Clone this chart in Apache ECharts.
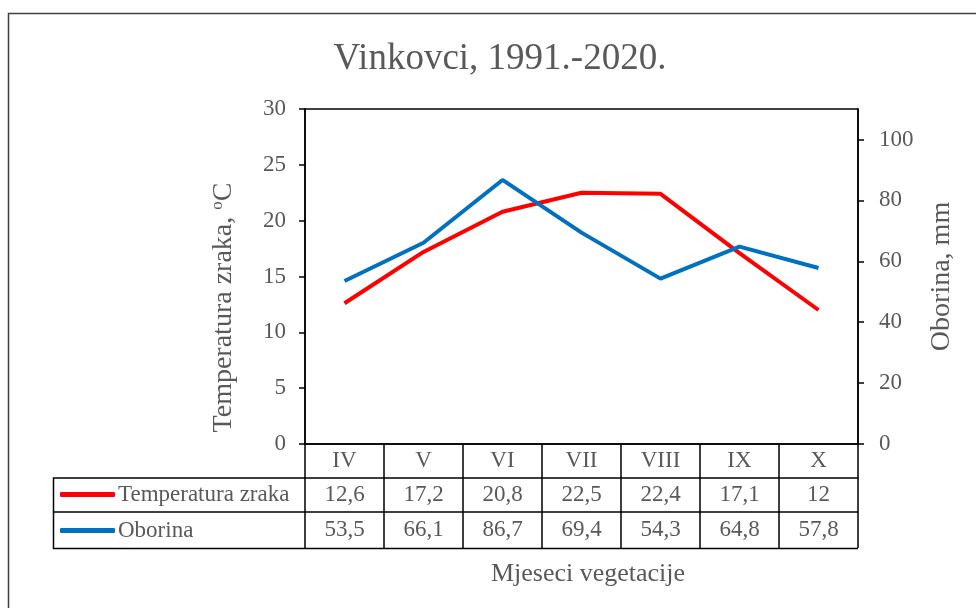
<!DOCTYPE html>
<html>
<head>
<meta charset="utf-8">
<script src="https://cdn.jsdelivr.net/npm/echarts@6/dist/echarts.min.js"></script>
<style>
  html, body { margin: 0; padding: 0; background: #fff; }
  #chart { width: 976px; height: 608px; }
</style>
</head>
<body>
<div id="chart"></div>
<script>
var months = ['IV', 'V', 'VI', 'VII', 'VIII', 'IX', 'X'];
var temperature = [12.6, 17.2, 20.8, 22.5, 22.4, 17.1, 12];
var precipitation = [53.5, 66.1, 86.7, 69.4, 54.3, 64.8, 57.8];
var rightTicks = [0, 20, 40, 60, 80, 100];

var FONT = 'Liberation Serif';
var GRAY = '#595959';

function fmt(v) { return String(v).replace('.', ','); }

function tableAxis(data, offset, tickLen, margin) {
    return {
        type: 'category', position: 'bottom', offset: offset, data: data,
        axisLine: { show: true, onZero: false, lineStyle: { color: '#000', width: 1.5 } },
        axisTick: { show: true, interval: 0, length: tickLen, lineStyle: { color: '#000', width: 1.5 } },
        axisLabel: { interval: 0, margin: margin, color: GRAY, fontFamily: FONT, fontSize: 23 },
        splitLine: { show: false }
    };
}

function legendRow(name, top) {
    return {
        data: [name], left: 60, top: top, padding: 0, icon: 'roundRect', itemWidth: 55, itemHeight: 5,
        itemGap: 0, selectedMode: false,
        textStyle: { fontFamily: FONT, fontSize: 23, color: GRAY, padding: [0, 0, 0, -2] }
    };
}

var chart = echarts.init(document.getElementById('chart'));
chart.setOption({
    animation: false,
    backgroundColor: '#fff',
    textStyle: { fontFamily: FONT },
    title: [
        { text: 'Vinkovci, 1991.-2020.', left: 495, top: 36, textAlign: 'center',
          textStyle: { fontFamily: FONT, fontSize: 37, fontWeight: 'normal', color: GRAY } },
        { text: 'Mjeseci vegetacije', left: 583, top: 556, textAlign: 'center',
          textStyle: { fontFamily: FONT, fontSize: 26, fontWeight: 'normal', color: GRAY } }
    ],
    legend: [
        legendRow('Temperatura zraka', 483),
        legendRow('Oborina', 519)
    ],
    grid: { left: 305, right: 118, top: 109, bottom: 164, show: true, borderColor: '#000', borderWidth: 1.5 },
    xAxis: [
        tableAxis(months, 0, 34, 5),
        tableAxis(temperature.map(fmt), 34, 34, 5),
        tableAxis(precipitation.map(fmt), 68, 36, 6)
    ],
    yAxis: [
        {
            type: 'value', min: 0, max: 30, interval: 5,
            name: 'Temperatura zraka, {sup|o}C', nameLocation: 'middle', nameGap: 67, nameRotate: 90,
            nameTextStyle: { fontFamily: FONT, fontSize: 28, color: GRAY, padding: [0, 62, 0, 0],
                rich: { sup: { fontFamily: FONT, fontSize: 17, color: GRAY, padding: [0, 0, 12, 0] } } },
            axisLine: { show: true, lineStyle: { color: '#000', width: 1.5 } },
            axisTick: { show: true, length: 6, lineStyle: { color: '#000', width: 1.5 } },
            axisLabel: { margin: 19, color: GRAY, fontFamily: FONT, fontSize: 23 },
            splitLine: { show: false }
        },
        {
            type: 'value', min: 0, max: 110, interval: 20, position: 'right',
            name: 'Oborina, mm', nameLocation: 'middle', nameGap: 70, nameRotate: 90,
            nameTextStyle: { fontFamily: FONT, fontSize: 28, color: GRAY },
            axisLine: { show: true, lineStyle: { color: '#000', width: 1.5 } },
            axisTick: { show: true, length: 6, customValues: rightTicks, lineStyle: { color: '#000', width: 1.5 } },
            axisLabel: { margin: 21, color: GRAY, fontFamily: FONT, fontSize: 23, customValues: rightTicks },
            splitLine: { show: false }
        }
    ],
    series: [
        { type: 'line', name: 'Temperatura zraka', data: temperature, xAxisIndex: 0, yAxisIndex: 0,
          symbol: 'none', color: '#FF0000', lineStyle: { color: '#FF0000', width: 4 }, z: 3 },
        { type: 'line', name: 'Oborina', data: precipitation, xAxisIndex: 0, yAxisIndex: 1,
          symbol: 'none', color: '#0070C0', lineStyle: { color: '#0070C0', width: 4 }, z: 4 }
    ],
    graphic: [
        // outer chart border
        { type: 'rect', shape: { x: 8.5, y: 13.5, width: 1100, height: 800 }, silent: true,
          style: { fill: null, stroke: '#404040', lineWidth: 1.5 } },
        // legend column of the data table
        { type: 'polyline', shape: { points: [[305, 478], [53.5, 478], [53.5, 548.5], [858, 548.5]] },
          style: { fill: null, stroke: '#000', lineWidth: 1.5 } },
        { type: 'line', shape: { x1: 53.5, y1: 512, x2: 305, y2: 512 }, style: { stroke: '#000', lineWidth: 1.5 } }
    ]
});
</script>
</body>
</html>
